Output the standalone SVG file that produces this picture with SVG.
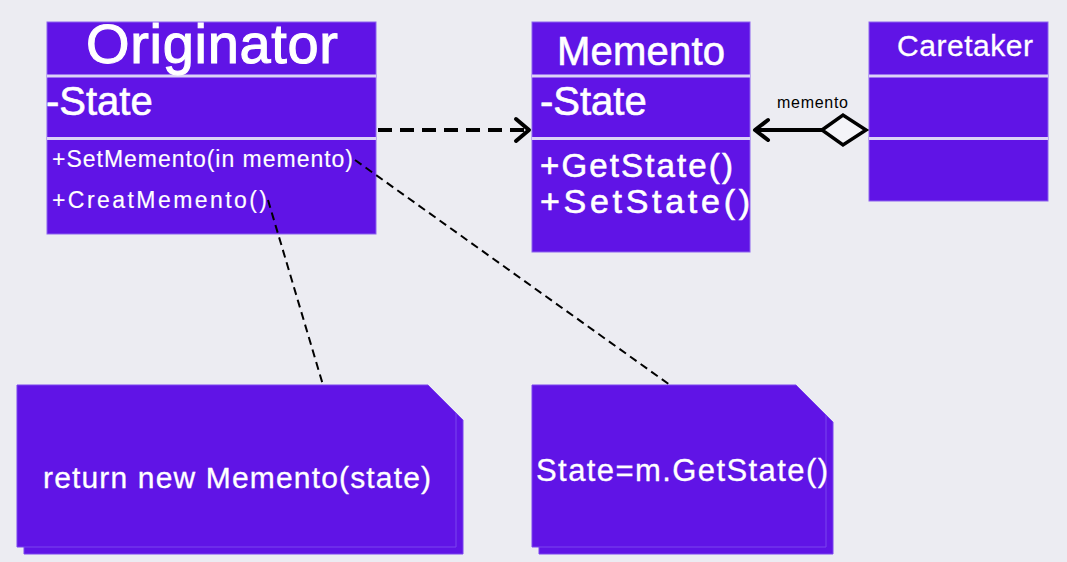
<svg xmlns="http://www.w3.org/2000/svg" width="1067" height="562" viewBox="0 0 1067 562">
<style>
.box{fill:#6014E6;stroke:#8B62EE;stroke-width:1}
.sep{stroke:#DCD2F7;stroke-width:3}
.t{font-family:"Liberation Sans",Arial,sans-serif;fill:#FFFFFF;stroke:#FFFFFF}
.dash{fill:none;stroke:#000;stroke-width:2;stroke-dasharray:8 5}
.note{fill:#6014E6;stroke:#7A45EE;stroke-width:1}
</style>
<rect width="1067" height="562" fill="#ECECF2"/>
<g id="originator">
<rect class="box" x="47" y="22" width="329" height="212"/>
<line class="sep" x1="47" y1="76" x2="376" y2="76"/>
<line class="sep" x1="47" y1="138.5" x2="376" y2="138.5"/>
<text class="t" x="86" y="63" font-size="56" stroke-width="1.1" textLength="252" lengthAdjust="spacing">Originator</text>
<text class="t" x="46" y="115" font-size="40" stroke-width="0.6">-State</text>
<text class="t" x="52" y="167" font-size="23" stroke-width="0.15" textLength="301" lengthAdjust="spacing">+SetMemento(in memento)</text>
<text class="t" x="52" y="208" font-size="23" stroke-width="0.15" textLength="215" lengthAdjust="spacing">+CreatMemento()</text>
</g>
<g id="memento">
<rect class="box" x="532" y="22" width="218" height="230"/>
<line class="sep" x1="532" y1="76" x2="750" y2="76"/>
<line class="sep" x1="532" y1="138.5" x2="750" y2="138.5"/>
<text class="t" x="557" y="65" font-size="40" stroke-width="0.6" textLength="168" lengthAdjust="spacing">Memento</text>
<text class="t" x="540" y="115" font-size="40" stroke-width="0.6">-State</text>
<text class="t" x="540" y="177" font-size="33" stroke-width="0.6" textLength="193" lengthAdjust="spacing">+GetState()</text>
<text class="t" x="540" y="213" font-size="34" stroke-width="0.6" textLength="210" lengthAdjust="spacing">+SetState()</text>
</g>
<g id="caretaker">
<rect class="box" x="869" y="22" width="179" height="179"/>
<line class="sep" x1="869" y1="76" x2="1048" y2="76"/>
<line class="sep" x1="869" y1="138.5" x2="1048" y2="138.5"/>
<text class="t" x="897" y="56" font-size="30" stroke-width="0.3" textLength="136" lengthAdjust="spacing">Caretaker</text>
</g>
<g id="note1">
<polygon class="note" points="24,392 435,392 463,420 463,554 24,554"/>
<polygon class="note" points="17,385 428,385 456,413 456,547 17,547"/>
<text class="t" x="43" y="488" font-size="30" stroke-width="0.3" textLength="388" lengthAdjust="spacing">return new Memento(state)</text>
</g>
<g id="note2">
<polygon class="note" points="539,392 803,392 833,422 833,554 539,554"/>
<polygon class="note" points="532,385 796,385 826,415 826,547 532,547"/>
<text class="t" x="536" y="481" font-size="31" stroke-width="0.3" textLength="292" lengthAdjust="spacing">State=m.GetState()</text>
</g>
<g id="connectors">
<line x1="378" y1="130" x2="527" y2="130" stroke="#000" stroke-width="4" stroke-dasharray="14 8"/>
<polyline points="516,119 529,130 516,141" fill="none" stroke="#000" stroke-width="4" stroke-linecap="round" stroke-linejoin="round"/>
<line x1="757" y1="130" x2="822" y2="130" stroke="#000" stroke-width="4"/>
<polyline points="768,120 755,130 768,140" fill="none" stroke="#000" stroke-width="4" stroke-linecap="round" stroke-linejoin="round"/>
<polygon points="822,130 843,115 866,130 843,145" fill="#F4F4F8" stroke="#000" stroke-width="3.5" stroke-linejoin="miter"/>
<text x="777" y="108" font-size="16" font-family="Liberation Sans,Arial,sans-serif" fill="#000" textLength="71" lengthAdjust="spacing">memento</text>
<line class="dash" x1="355" y1="160" x2="670" y2="385"/>
<line class="dash" x1="268" y1="200" x2="323" y2="385"/>
</g>
</svg>
